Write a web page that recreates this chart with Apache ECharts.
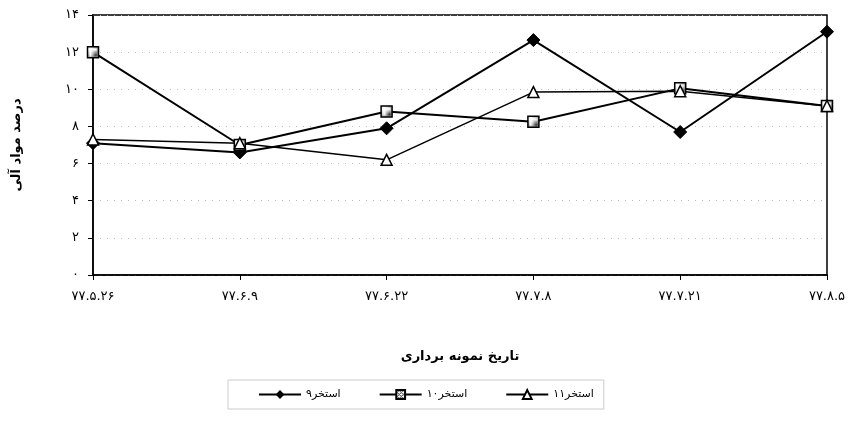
<!DOCTYPE html>
<html>
<head>
<meta charset="utf-8">
<script src="https://cdn.jsdelivr.net/npm/echarts@6/dist/echarts.min.js"></script>
<style>
html,body{margin:0;padding:0;background:#fff;}
#c{width:853px;height:423px;}
</style>
</head>
<body>
<div id="c"></div>
<script>
const categories = ['۷۷.۵.۲۶', '۷۷.۶.۹', '۷۷.۶.۲۲', '۷۷.۷.۸', '۷۷.۷.۲۱', '۷۷.۸.۵'];
const pond9  = [7.1, 6.6, 7.9, 12.65, 7.7, 13.1];
const pond10 = [12.0, 7.0, 8.8, 8.25, 10.05, 9.1];
const pond11 = [7.3, 7.1, 6.2, 9.85, 9.9, 9.1];
const seriesNames = ['استخر۹', 'استخر۱۰', 'استخر۱۱'];
const yTickLabels = {0:'۰', 2:'۲', 4:'۴', 6:'۶', 8:'۸', 10:'۱۰', 12:'۱۲', 14:'۱۴'};
const xTitle = 'تاریخ نمونه برداری';
const yTitle = 'درصد مواد آلی';

const FONT = 'DejaVu Sans';

// hatched pattern for square marker
const pc = document.createElement('canvas');
pc.width = 4; pc.height = 4;
const pctx = pc.getContext('2d');
pctx.fillStyle = '#fff'; pctx.fillRect(0,0,4,4);
pctx.fillStyle = '#333';
pctx.fillRect(0,0,1,1); pctx.fillRect(2,2,1,1); pctx.fillRect(1,3,1,1); pctx.fillRect(3,1,1,1);
pctx.fillRect(2,0,1,1); pctx.fillRect(0,2,1,1);

const chart = echarts.init(document.getElementById('c'), null, {renderer:'canvas'});
chart.setOption({
  backgroundColor: '#fff',
  animation: false,
  textStyle: {fontFamily: FONT, color: '#000'},
  grid: {left: 93, right: 26, top: 15, bottom: 148, show: true, borderColor: '#000', borderWidth: 1.5},
  legend: {
    left: 228, top: 380, width: 370,
    padding: [9, 10, 9, 30],
    borderColor: '#ccc', borderWidth: 1,
    itemWidth: 42, itemHeight: 11, itemGap: 38,
    textStyle: {fontFamily: FONT, fontSize: 11, color: '#000'},
    data: seriesNames
  },
  xAxis: {
    type: 'category', data: categories, boundaryGap: false,
    name: xTitle, nameLocation: 'middle', nameGap: 75,
    nameTextStyle: {fontFamily: FONT, fontSize: 13, fontWeight: 'bold', color: '#000'},
    axisLine: {lineStyle: {color: '#000', width: 1.5}},
    axisTick: {show: true, length: 5, lineStyle: {color: '#000'}},
    axisLabel: {fontFamily: FONT, fontSize: 13, color: '#000', margin: 15},
    splitLine: {show: false}
  },
  yAxis: {
    type: 'value', min: 0, max: 14, interval: 2,
    name: yTitle, nameLocation: 'middle', nameGap: 70, nameRotate: 90,
    nameTextStyle: {fontFamily: FONT, fontSize: 13, fontWeight: 'bold', color: '#000'},
    axisLine: {show: true, lineStyle: {color: '#000', width: 1.5}},
    axisTick: {show: true, length: 5, lineStyle: {color: '#000'}},
    axisLabel: {fontFamily: FONT, fontSize: 13, color: '#000', margin: 14,
      formatter: v => yTickLabels[v] !== undefined ? yTickLabels[v] : String(v)},
    splitLine: {show: true, lineStyle: {color: '#bbb', type: [1, 6], width: 1}}
  },
  series: [
    {name: seriesNames[0], type: 'line', data: pond9, symbol: 'diamond', symbolSize: 13,
     lineStyle: {color: '#000', width: 2}, itemStyle: {color: '#000', borderColor: '#000'}},
    {name: seriesNames[1], type: 'line', data: pond10, symbol: 'rect', symbolSize: 11,
     lineStyle: {color: '#000', width: 2},
     itemStyle: {color: {image: pc, repeat: 'repeat'}, borderColor: '#000', borderWidth: 1.5}},
    {name: seriesNames[2], type: 'line', data: pond11, symbol: 'triangle', symbolSize: 11,
     lineStyle: {color: '#000', width: 1.5},
     itemStyle: {color: '#fff', borderColor: '#000', borderWidth: 1.5}}
  ]
});
</script>
</body>
</html>
